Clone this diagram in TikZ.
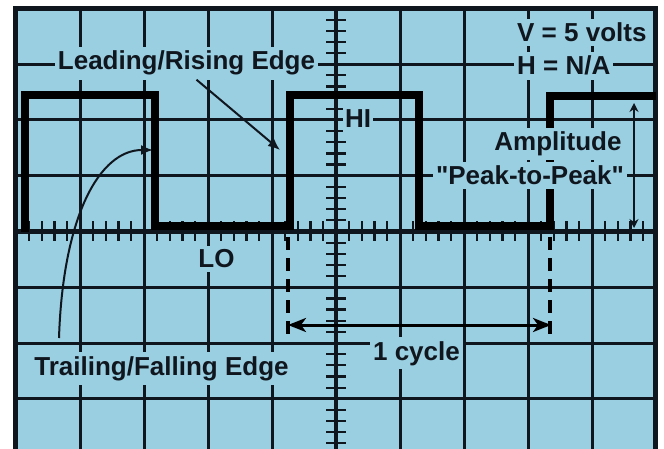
\documentclass[tikz,border=0pt]{standalone}
\usepackage{fontspec}
\newfontfamily\scopefont{Liberation Sans}
\usetikzlibrary{arrows.meta}
\definecolor{scopebg}{RGB}{154,206,225}
\definecolor{scopeink}{RGB}{16,22,30}

\begin{document}
\begin{tikzpicture}[
  x=1pt, y=-1pt,
  gridline/.style={draw=scopeink, line width=3pt},
  centerline/.style={draw=scopeink, line width=4.5pt},
  minortick/.style={draw=scopeink, line width=2.2pt},
  wave/.style={draw=black, line width=7.5pt},
  marker/.style={draw=black, line width=4pt, dash pattern=on 13pt off 8pt},
  scopetext/.style={fill=scopebg, text=scopeink, font=\scopefont\bfseries\fontsize{26}{30}\selectfont, inner xsep=3pt, inner ysep=4pt},
  pointer/.style={draw=scopeink, line width=2pt, -{Latex[length=12pt,width=10pt]}},
  span/.style={draw=black, line width=3pt, {Stealth[length=18pt,width=14pt,inset=5pt]}-{Stealth[length=18pt,width=14pt,inset=5pt]}},
  ampspan/.style={draw=scopeink, line width=1.8pt, {Stealth[length=9pt,width=9pt]}-{Stealth[length=9pt,width=9pt]}}
]
\useasboundingbox (0,0) rectangle (664,449);
\fill[white] (0,0) rectangle (664,449);
\fill[scopebg] (15.5,8.5) rectangle (655.5,449);

% graticule
\foreach \i in {1,2,3,4,6,7,8,9}
  \draw[gridline] (16+64*\i,8.5) -- (16+64*\i,449);
\foreach \j in {1,2,3,5,6,7}
  \draw[gridline] (15.5,8.5+55.75*\j) -- (655.5,8.5+55.75*\j);
\draw[centerline] (336,8.5) -- (336,449);
\draw[centerline] (15.5,231.5) -- (655.5,231.5);
\foreach \t in {1,...,49}
  \draw[minortick] (16+12.8*\t,221.5) -- (16+12.8*\t,241.5);
\foreach \t in {1,...,39}
  \draw[minortick] (326,8.5+11.15*\t) -- (346,8.5+11.15*\t);
\draw[line width=5.5pt, scopeink] (15.5,449) -- (15.5,8.5) -- (655.5,8.5) -- (655.5,449);

% square wave
\draw[wave] (25,232) -- (25,95) -- (155,95) -- (155,226) -- (290,226) -- (290,95)
  -- (419,95) -- (419,226) -- (550,226) -- (550,96) -- (656,96);

% one period markers
\coordinate (cycL) at (288,325);
\coordinate (cycR) at (551,325);
\draw[marker] (288,237) -- (288,338);
\draw[marker] (550,237) -- (550,338);

% labels
\node[scopetext, anchor=base] (lead) at (186.5,70) {Leading/Rising Edge};
\node[scopetext, anchor=base west] (volts) at (514,42) {V = 5 volts};
\node[scopetext, anchor=base west] (horiz) at (514,75) {H = N/A};
\node[scopetext, anchor=base west, inner xsep=2pt] (hi) at (343,128) {HI};
\node[scopetext, anchor=base] (amp) at (558,151) {Amplitude};
\node[scopetext, anchor=base] (peak) at (530,185) {"Peak-to-Peak"};
\node[scopetext, anchor=base] (lo) at (216.5,268) {LO};
\node[scopetext, anchor=base] (cycle) at (416.5,360) {1 cycle};
\node[scopetext, anchor=base] (trail) at (161.5,375) {Trailing/Falling Edge};

% pointers
\coordinate (riseTip) at (280,150);
\coordinate (fallTail) at (59,338);
\coordinate (fallTip) at (153,150);
\coordinate (ampTop) at (634,103);
\coordinate (ampBot) at (634,228);
\draw[pointer] ([xshift=10pt]lead.south) -- (riseTip);
\draw[pointer] (fallTail) .. controls (63,215) and (100,150) .. (fallTip);
\draw[ampspan] (ampTop) -- (ampBot);
\draw[span] (cycL) -- (cycR);
\end{tikzpicture}
\end{document}
